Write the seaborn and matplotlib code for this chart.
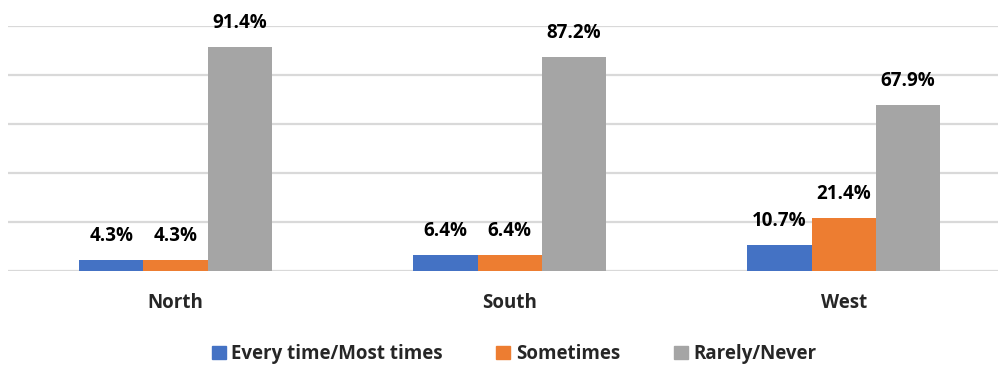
import matplotlib
matplotlib.use("Agg")
import matplotlib.pyplot as plt
import seaborn as sns
import pandas as pd

regions = ["North", "South", "West"]
responses = ["Every time/Most times", "Sometimes", "Rarely/Never"]
every_time = [4.3, 6.4, 10.7]
sometimes = [4.3, 6.4, 21.4]
rarely = [91.4, 87.2, 67.9]
colors = ["#4472C4", "#ED7D31", "#A5A5A5"]

df = pd.DataFrame({
    "region": regions * 3,
    "response": [responses[0]] * 3 + [responses[1]] * 3 + [responses[2]] * 3,
    "pct": every_time + sometimes + rarely,
})

sns.set_theme(style="white")
plt.rcParams["font.family"] = ["Open Sans", "DejaVu Sans"]

fig = plt.figure(figsize=(9.98, 3.67), dpi=100)
ax = fig.add_axes([8 / 998, 1 - 270.7 / 367, 1 - 8 / 998, (270.7 - 26) / 367])

sns.barplot(data=df, x="region", y="pct", hue="response", order=regions,
            hue_order=responses, palette=colors, width=0.577, gap=0,
            saturation=1, ax=ax, legend=False, linewidth=0)

for cont in ax.containers:
    ax.bar_label(cont, fmt="%.1f%%", padding=10, fontsize=13.5,
                 fontweight="bold", color="black")

ax.set_ylim(0, 100)
ax.set_xlim(-0.501, 2.461)
ax.set_yticks([0, 20, 40, 60, 80, 100])
ax.yaxis.grid(True, color="#d9d9d9", linewidth=1.6)
ax.set_axisbelow(True)
ax.tick_params(axis="y", left=False, labelleft=False)
ax.tick_params(axis="x", bottom=False, pad=10, labelsize=13.5)
for lbl in ax.get_xticklabels():
    lbl.set_fontweight("bold")
for s in ax.spines.values():
    s.set_visible(False)
ax.set_xlabel("")
ax.set_ylabel("")

handles = [plt.Rectangle((0, 0), 1, 1, color=c) for c in colors]
fig.legend(handles, responses, loc="center", bbox_to_anchor=(514 / 998, 1 - 354 / 367),
           ncol=3, frameon=False, handlelength=0.75, handleheight=0.75,
           handletextpad=0.3, columnspacing=2.85,
           prop={"size": 13.5, "weight": "bold"})

fig.savefig("out.png", dpi=100)
